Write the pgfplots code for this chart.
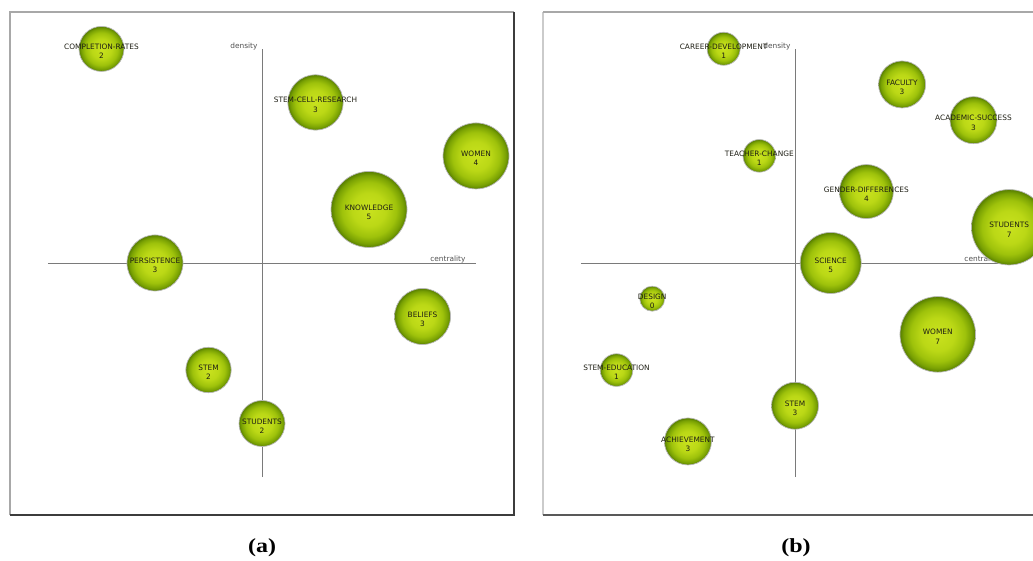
\documentclass[border=0pt]{standalone}
\usepackage{fontspec}
\setmainfont{DejaVu Sans}
\newfontfamily\capfont{Liberation Serif}
\usepackage{graphicx}
\usepackage{pgfplots}
\pgfplotsset{compat=1.18}

\definecolor{bubA}{HTML}{C9E21E}
\definecolor{bubB}{HTML}{BBD816}
\definecolor{bubC}{HTML}{9EC20B}
\definecolor{bubD}{HTML}{79A103}
\definecolor{bubE}{HTML}{577E00}
\definecolor{bubrim}{HTML}{B8B8B8}
\definecolor{labtext}{HTML}{1E1E14}
\definecolor{axline}{HTML}{7A7A7A}
\definecolor{axtext}{HTML}{505050}
\definecolor{framelt}{HTML}{A8A8A8}
\definecolor{framedk}{HTML}{3C3C3C}

\pgfdeclareradialshading{bubbleshade}{\pgfpointorigin}{%
  color(0bp)=(bubA); color(11bp)=(bubB); color(18bp)=(bubC);
  color(22.5bp)=(bubD); color(25bp)=(bubE); color(50bp)=(bubE)}

\pgfdeclareplotmark{bubble}{%
  \pgfpathcircle{\pgfpointorigin}{\pgfplotmarksize}%
  \pgfshadepath{bubbleshade}{0}%
  \pgfusepath{stroke}%
}

\newcommand\lbl{\fontsize{7.4}{9.3}\selectfont}

\tikzset{
  themelbl/.style={anchor=center, align=center, font=\lbl, text=labtext,
    inner sep=0pt, yshift=-2.5pt},
  axlbl/.style={anchor=base east, font=\lbl, text=axtext},
}
\pgfplotsset{
  quad/.style={hide axis, scale only axis, width=504pt, height=503pt,
    clip=false, anchor=south west},
  bub/.style={only marks, mark=bubble,
    mark options={draw=bubrim, line width=0.7pt},
    nodes near coords style={themelbl}},
}
% \theme{centrality rank}{density rank}{radius (pt)}{documents}{theme}
\newcommand\theme[5]{%
  \addplot[bub, mark size=#3, nodes near coords={#5\\#4}] coordinates {(#1,#2)};}

\begin{document}
\begin{tikzpicture}
\useasboundingbox (0,0) rectangle (1033pt,560pt);
\clip (0,0) rectangle (1033pt,560pt);

% (a)
\begin{axis}[quad, at={(10pt,45pt)},
    xmin=-4.71, xmax=4.71, ymin=-4.71, ymax=4.69]
  \draw[framelt, line width=1.3pt] (rel axis cs:0,0) -- (rel axis cs:0,1) -- (rel axis cs:1,1);
  \draw[framedk, line width=1.3pt] (rel axis cs:0,0) -- (rel axis cs:1,0) -- (rel axis cs:1,1);
  \draw[axline, line width=0.9pt] (axis cs:-4,0) -- (axis cs:4,0);
  \draw[axline, line width=0.9pt] (axis cs:0,-4) -- (axis cs:0,4);
  \node[axlbl, xshift=-1pt] at (axis cs:0,4) {density};
  \node[axlbl, xshift=-7pt, yshift=1.5pt] at (axis cs:4,0) {centrality};
  \theme{-3}{4}{22.5}{2}{COMPLETION-RATES}
  \theme{1}{3}{27.7}{3}{STEM-CELL-RESEARCH}
  \theme{4}{2}{33}{4}{WOMEN}
  \theme{2}{1}{38}{5}{KNOWLEDGE}
  \theme{-2}{0}{28}{3}{PERSISTENCE}
  \theme{3}{-1}{28}{3}{BELIEFS}
  \theme{-1}{-2}{22.7}{2}{STEM}
  \theme{0}{-3}{23}{2}{STUDENTS}
\end{axis}

% (b)
\begin{axis}[quad, at={(543pt,45pt)},
    xmin=-7.06, xmax=7.06, ymin=-7.06, ymax=7.03]
  \draw[framelt!60, line width=1.3pt] (rel axis cs:0,0) -- (rel axis cs:0,1);
  \draw[framelt, line width=1.3pt] (rel axis cs:0,1) -- (rel axis cs:1,1);
  \draw[framedk!85, line width=1.3pt] (rel axis cs:0,0) -- (rel axis cs:1,0) -- (rel axis cs:1,1);
  \draw[axline, line width=0.9pt] (axis cs:-6,0) -- (axis cs:6,0);
  \draw[axline, line width=0.9pt] (axis cs:0,-6) -- (axis cs:0,6);
  \node[axlbl, xshift=-1pt] at (axis cs:0,6) {density};
  \node[axlbl, xshift=-6pt, yshift=1.5pt] at (axis cs:6,0) {centrality};
  \theme{-2}{6}{16.5}{1}{CAREER-DEVELOPMENT}
  \theme{3}{5}{23.5}{3}{FACULTY}
  \theme{5}{4}{23.5}{3}{ACADEMIC-SUCCESS}
  \theme{-1}{3}{16.3}{1}{TEACHER-CHANGE}
  \theme{2}{2}{27}{4}{GENDER-DIFFERENCES}
  \theme{6}{1}{37.7}{7}{STUDENTS}
  \theme{1}{0}{30.5}{5}{SCIENCE}
  \theme{-4}{-1}{12.5}{0}{DESIGN}
  \theme{4}{-2}{37.8}{7}{WOMEN}
  \theme{-5}{-3}{16.3}{1}{STEM-EDUCATION}
  \theme{0}{-4}{23.5}{3}{STEM}
  \theme{-3}{-5}{23.5}{3}{ACHIEVEMENT}
\end{axis}

\node[font=\capfont\bfseries\fontsize{20}{20}\selectfont] at (262pt,12.5pt) {\scalebox{1.2}[1]{(a)}};
\node[font=\capfont\bfseries\fontsize{20}{20}\selectfont] at (796pt,12.5pt) {\scalebox{1.2}[1]{(b)}};
\end{tikzpicture}
\end{document}
